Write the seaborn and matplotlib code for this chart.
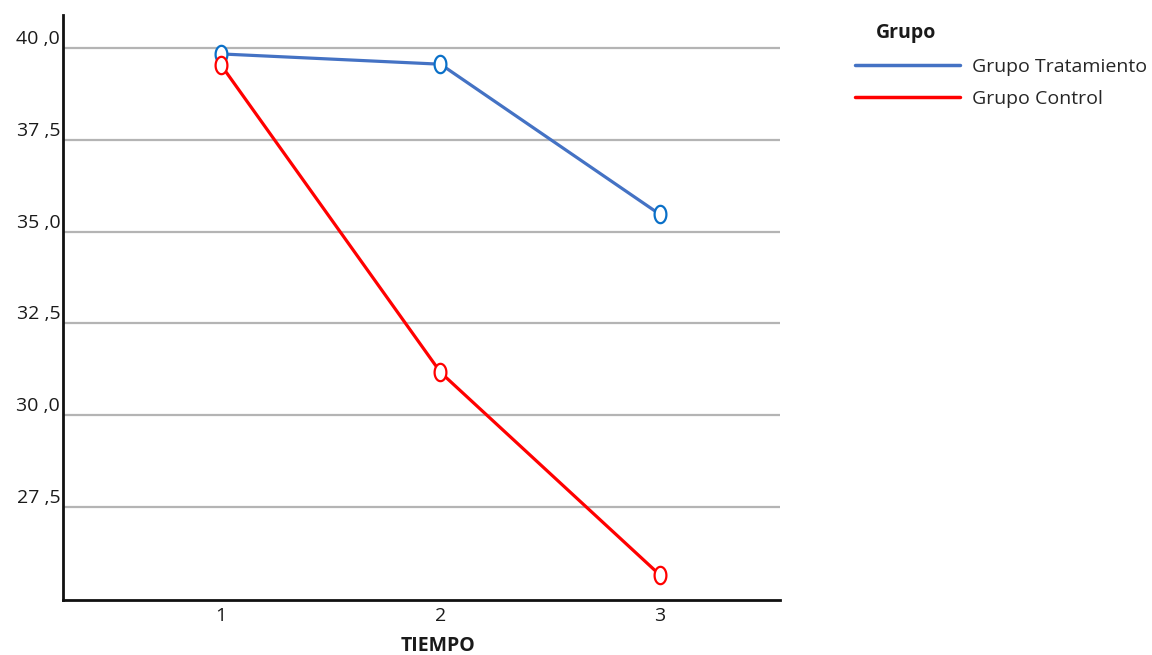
import matplotlib
matplotlib.use("Agg")
import matplotlib.pyplot as plt
from matplotlib.path import Path
from matplotlib.lines import Line2D
import numpy as np
import pandas as pd
import seaborn as sns

# Mean score per time point for each group
tiempo = [1, 2, 3]
grupo_tratamiento = [39.84, 39.56, 35.47]
grupo_control = [39.54, 31.17, 25.65]
grupos = ["Grupo Tratamiento", "Grupo Control"]
y_ticks = [27.5, 30.0, 32.5, 35.0, 37.5, 40.0]
y_tick_labels = ["27 ,5", "30 ,0", "32 ,5", "35 ,0", "37 ,5", "40 ,0"]

df = pd.DataFrame({
    "TIEMPO": tiempo * 2,
    "valor": grupo_tratamiento + grupo_control,
    "Grupo": [grupos[0]] * 3 + [grupos[1]] * 3,
})

line_colors = {grupos[0]: "#4472C4", grupos[1]: "#FF0000"}
edge_colors = {grupos[0]: "#0A70C8", grupos[1]: "#FF0000"}

sns.set_theme(style="white")
plt.rcParams["font.family"] = ["Open Sans", "DejaVu Sans"]

FS = 14

fig = plt.figure(figsize=(11.52, 6.55), dpi=100)
ax = fig.add_axes([63 / 1152, 1 - 600 / 655, (780 - 63) / 1152, (600 - 15) / 655])

# tall open ellipse used as the point marker
theta = np.linspace(0, 2 * np.pi, 60)
ellipse = Path(np.column_stack([0.68 * np.cos(theta), np.sin(theta)]), closed=True)

for y in y_ticks:
    ax.axhline(y, color="#b4b4b4", lw=1.6, zorder=1)

sns.lineplot(data=df, x="TIEMPO", y="valor", hue="Grupo", palette=line_colors,
             linewidth=2.3, legend=False, ax=ax, zorder=3)
for g in grupos:
    sub = df[df["Grupo"] == g]
    ax.plot(sub["TIEMPO"], sub["valor"], linestyle="none", marker=ellipse,
            markersize=12.5, markerfacecolor="white", markeredgecolor=edge_colors[g],
            markeredgewidth=1.6, zorder=4)

ax.set_xlim(0.28, 3.547)
ax.set_ylim(24.97, 40.9)
ax.set_xticks(tiempo)
ax.set_xticklabels([str(t) for t in tiempo], fontsize=FS, color="#1a1a1a")
ax.set_yticks(y_ticks)
ax.set_yticklabels(y_tick_labels, fontsize=FS, color="#1a1a1a")
for lbl in ax.get_yticklabels():
    lbl.set_verticalalignment("bottom")
ax.tick_params(axis="both", length=0)
ax.tick_params(axis="y", pad=2)
ax.tick_params(axis="x", pad=5)

ax.set_ylabel("")
ax.set_xlabel("TIEMPO", fontsize=FS, fontweight="bold", color="#1a1a1a")
ax.xaxis.set_label_coords((438 - 63) / (780 - 63), -0.062)

for side in ["top", "right"]:
    ax.spines[side].set_visible(False)
for side in ["left", "bottom"]:
    ax.spines[side].set_color("#111111")
    ax.spines[side].set_linewidth(2)

# legend
fig.text(876 / 1152, 1 - 33 / 655, "Grupo", fontsize=FS, fontweight="bold",
         color="#1a1a1a", va="center", ha="left")
handles = [Line2D([0], [0], color=line_colors[g], lw=2.5) for g in grupos]
fig.legend(handles, grupos, loc="upper left", bbox_to_anchor=(855 / 1152, 1 - 58 / 655),
           frameon=False, fontsize=FS, handlelength=5.4, handletextpad=0.6,
           labelspacing=0.7, borderpad=0, borderaxespad=0)

fig.savefig("out.png", dpi=100, facecolor="white")
